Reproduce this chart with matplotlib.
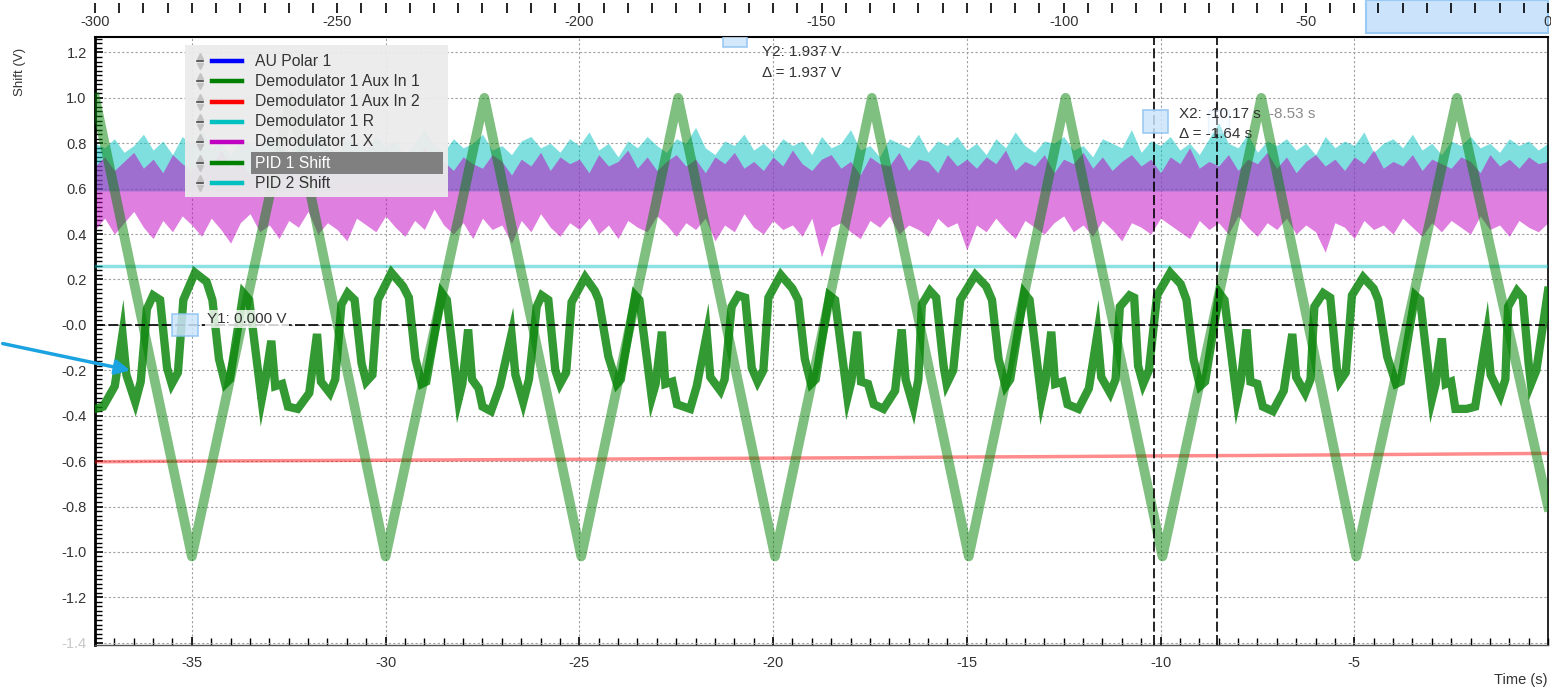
import numpy as np
import matplotlib
matplotlib.use("Agg")
import matplotlib.pyplot as plt
from matplotlib.patches import Rectangle, FancyArrowPatch
from matplotlib.lines import Line2D
from matplotlib.ticker import MultipleLocator
import matplotlib.transforms as mtransforms

plt.rcParams['font.family'] = ['Liberation Sans', 'DejaVu Sans']

# ---------------- data ----------------
legend_names = ["AU Polar 1", "Demodulator 1 Aux In 1", "Demodulator 1 Aux In 2",
                "Demodulator 1 R", "Demodulator 1 X", "PID 1 Shift", "PID 2 Shift"]
legend_colors = ["#0000ff", "#008000", "#ff0000", "#00c0c0", "#c000c0", "#008000", "#00c0c0"]

y_ticks = [-1.4, -1.2, -1.0, -0.8, -0.6, -0.4, -0.2, 0.0, 0.2, 0.4, 0.6, 0.8, 1.0, 1.2]
y_labels = ["-1.4", "-1.2", "-1.0", "-0.8", "-0.6", "-0.4", "-0.2", "-0.0",
            "0.2", "0.4", "0.6", "0.8", "1.0", "1.2"]
x_ticks = [-35, -30, -25, -20, -15, -10, -5]
x_labels = ["-35", "-30", "-25", "-20", "-15", "-10", "-5"]
top_ticks = [-300, -250, -200, -150, -100, -50, 0]
top_labels = ["-300", "-250", "-200", "-150", "-100", "-50", "0"]

# Demodulator 1 R / X envelopes (sampled every 0.25 s from -37.5 to 0)
band_t = np.linspace(-37.5, 0.0, 151)
r_max = [0.80,0.78,0.82,0.76,0.79,0.84,0.77,0.81,0.75,0.83,
         0.79,0.86,0.78,0.80,0.74,0.82,0.79,0.77,0.84,0.80,
         0.76,0.81,0.78,0.85,0.79,0.75,0.82,0.80,0.77,0.83,
         0.78,0.81,0.74,0.80,0.86,0.79,0.76,0.82,0.78,0.80,
         0.84,0.77,0.79,0.75,0.81,0.83,0.78,0.80,0.76,0.82,
         0.79,0.85,0.77,0.80,0.74,0.81,0.78,0.83,0.79,0.76,
         0.82,0.80,0.87,0.78,0.75,0.81,0.79,0.84,0.77,0.80,
         0.76,0.82,0.79,0.81,0.75,0.83,0.78,0.80,0.86,0.77,
         0.79,0.74,0.82,0.80,0.78,0.84,0.76,0.81,0.79,0.83,
         0.77,0.80,0.75,0.82,0.78,0.85,0.79,0.76,0.81,0.80,
         0.83,0.77,0.79,0.74,0.82,0.80,0.78,0.86,0.76,0.81,
         0.79,0.83,0.77,0.80,0.75,0.82,0.89,0.80,0.78,0.84,
         0.76,0.81,0.79,0.82,0.77,0.80,0.75,0.83,0.78,0.81,
         0.79,0.85,0.76,0.80,0.82,0.78,0.84,0.77,0.80,0.75,
         0.81,0.79,0.83,0.78,0.80,0.76,0.82,0.79,0.81,0.77,
         0.80]
r_min = 0.59
x_max = [0.70,0.74,0.68,0.72,0.76,0.69,0.73,0.67,0.75,0.71,
         0.68,0.74,0.70,0.77,0.69,0.72,0.66,0.73,0.75,0.70,
         0.72,0.68,0.74,0.71,0.76,0.67,0.73,0.70,0.75,0.69,
         0.74,0.71,0.67,0.73,0.78,0.70,0.72,0.68,0.74,0.71,
         0.69,0.75,0.72,0.66,0.73,0.70,0.76,0.68,0.74,0.71,
         0.73,0.67,0.75,0.70,0.72,0.77,0.69,0.74,0.68,0.72,
         0.75,0.70,0.73,0.67,0.74,0.71,0.76,0.69,0.72,0.68,
         0.74,0.70,0.77,0.71,0.68,0.73,0.75,0.69,0.72,0.66,
         0.74,0.71,0.70,0.76,0.68,0.73,0.72,0.67,0.75,0.70,
         0.73,0.69,0.74,0.71,0.77,0.68,0.72,0.70,0.75,0.67,
         0.73,0.71,0.76,0.69,0.74,0.68,0.72,0.75,0.70,0.73,
         0.67,0.74,0.71,0.78,0.69,0.72,0.70,0.75,0.68,0.73,
         0.71,0.76,0.69,0.74,0.67,0.72,0.75,0.70,0.73,0.68,
         0.74,0.71,0.77,0.69,0.72,0.70,0.75,0.68,0.73,0.71,
         0.69,0.74,0.72,0.67,0.75,0.70,0.73,0.69,0.74,0.71,
         0.72]
x_min = [0.42,0.47,0.40,0.45,0.50,0.43,0.38,0.46,0.41,0.48,
         0.44,0.39,0.47,0.42,0.36,0.45,0.49,0.41,0.44,0.38,
         0.46,0.43,0.50,0.40,0.45,0.42,0.37,0.47,0.44,0.41,
         0.48,0.43,0.39,0.46,0.42,0.51,0.44,0.40,0.45,0.38,
         0.47,0.42,0.44,0.36,0.46,0.41,0.49,0.43,0.39,0.45,
         0.42,0.47,0.40,0.44,0.38,0.46,0.43,0.41,0.48,0.44,
         0.39,0.45,0.42,0.47,0.37,0.44,0.41,0.49,0.43,0.40,
         0.46,0.42,0.44,0.39,0.47,0.30,0.43,0.45,0.41,0.38,
         0.46,0.43,0.48,0.40,0.44,0.42,0.39,0.47,0.43,0.45,
         0.33,0.44,0.41,0.47,0.42,0.38,0.46,0.43,0.40,0.45,
         0.48,0.41,0.44,0.39,0.46,0.42,0.37,0.45,0.43,0.40,
         0.47,0.44,0.41,0.38,0.46,0.42,0.45,0.40,0.48,0.43,
         0.39,0.45,0.42,0.47,0.40,0.44,0.41,0.32,0.45,0.43,
         0.38,0.46,0.42,0.44,0.40,0.47,0.43,0.39,0.45,0.41,
         0.46,0.43,0.40,0.48,0.42,0.44,0.39,0.46,0.43,0.41,
         0.45]

# PID 2 Shift (flat)
pid2_t = [-37.5, 0.0]
pid2_v = [0.26, 0.26]

# Demodulator 1 Aux In 2 (slow drift)
aux2_t = [-37.5, -35.0, -32.5, -30.0, -27.5, -25.0, -22.5, -20.0,
          -17.5, -15.0, -12.5, -10.0, -7.5, -5.0, -2.5, 0.0]
aux2_v = [-0.603, -0.600, -0.598, -0.596, -0.594, -0.592, -0.589, -0.587,
          -0.585, -0.582, -0.580, -0.577, -0.575, -0.572, -0.569, -0.566]

# PID 1 Shift (triangle sweep vertices)
pid1_t = [-37.5, -35.0, -32.45, -30.0, -27.45, -24.95, -22.45, -19.95,
          -17.45, -14.95, -12.45, -9.95, -7.4, -4.95, -2.35, 0.0]
pid1_v = [1.00, -1.02, 1.00, -1.02, 1.00, -1.02, 1.00, -1.02,
          1.00, -1.02, 1.00, -1.02, 1.00, -1.02, 1.00, -0.80]

# Demodulator 1 Aux In 1
aux1_t = [-37.50,-37.29,-36.99,-36.79,-36.69,-36.46,-36.32,-36.16,-36.00,-35.82,-35.64,-35.52,-35.36,-35.22,
          -34.92,-34.62,-34.47,-34.30,-34.14,-34.02,-33.67,-33.52,-33.20,-33.10,-32.95,-32.85,-32.67,-32.52,
          -32.27,-31.97,-31.77,-31.67,-31.44,-31.30,-31.14,-30.98,-30.80,-30.62,-30.50,-30.34,-30.20,
          -29.85,-29.55,-29.40,-29.23,-29.07,-28.95,-28.55,-28.42,-28.12,-28.02,-27.87,-27.77,-27.60,-27.50,
          -27.28,-27.05,-26.75,-26.65,-26.45,-26.30,-26.10,-25.97,-25.80,-25.62,-25.50,-25.34,-25.20,
          -24.85,-24.60,-24.50,-24.25,-24.03,-23.93,-23.56,-23.45,-23.13,-23.03,-22.87,-22.78,-22.60,-22.48,
          -22.14,-21.97,-21.71,-21.62,-21.36,-21.25,-21.07,-20.90,-20.72,-20.55,-20.40,-20.25,-20.12,
          -19.80,-19.50,-19.35,-19.18,-19.02,-18.90,-18.55,-18.40,-18.08,-17.98,-17.83,-17.73,-17.55,-17.40,
          -17.15,-16.85,-16.68,-16.58,-16.38,-16.25,-16.16,-15.95,-15.79,-15.60,-15.52,-15.35,-15.17,
          -14.78,-14.50,-14.35,-14.18,-14.00,-13.88,-13.52,-13.38,-13.07,-12.97,-12.82,-12.72,-12.53,-12.40,
          -12.12,-11.85,-11.63,-11.53,-11.30,-11.16,-11.05,-10.80,-10.68,-10.58,-10.45,-10.30,-10.09,
          -9.75,-9.48,-9.33,-9.15,-8.98,-8.85,-8.48,-8.35,-8.03,-7.93,-7.78,-7.68,-7.50,-7.36,
          -7.10,-6.82,-6.60,-6.50,-6.27,-6.13,-6.03,-5.80,-5.62,-5.45,-5.38,-5.22,-5.06,
          -4.77,-4.50,-4.38,-4.15,-3.92,-3.80,-3.43,-3.30,-3.00,-2.90,-2.74,-2.64,-2.50,-2.39,
          -2.10,-1.88,-1.58,-1.48,-1.23,-1.10,-1.03,-0.80,-0.65,-0.50,-0.44,-0.30,0.00]
aux1_v = [-0.37,-0.36,-0.27,-0.04,-0.22,-0.34,-0.25,0.07,0.13,0.11,-0.19,-0.26,-0.21,0.11,
          0.23,0.19,0.11,-0.15,-0.26,-0.24,0.14,0.11,-0.33,-0.24,-0.07,-0.27,-0.26,-0.36,
          -0.37,-0.30,-0.04,-0.25,-0.30,-0.24,0.09,0.14,0.11,-0.17,-0.25,-0.22,0.11,
          0.23,0.17,0.12,-0.15,-0.26,-0.25,0.14,0.11,-0.33,-0.26,-0.02,-0.24,-0.28,-0.36,
          -0.38,-0.27,-0.04,-0.22,-0.34,-0.24,0.08,0.13,0.11,-0.20,-0.26,-0.21,0.10,
          0.21,0.15,0.11,-0.14,-0.26,-0.24,0.13,0.11,-0.32,-0.26,-0.03,-0.26,-0.25,-0.35,
          -0.37,-0.27,-0.04,-0.23,-0.29,-0.24,0.08,0.13,0.12,-0.19,-0.25,-0.20,0.12,
          0.22,0.16,0.11,-0.15,-0.26,-0.24,0.13,0.11,-0.32,-0.25,-0.03,-0.25,-0.26,-0.35,
          -0.37,-0.29,-0.02,-0.24,-0.36,-0.24,0.09,0.15,0.12,-0.18,-0.26,-0.20,0.11,
          0.22,0.17,0.11,-0.15,-0.27,-0.24,0.14,0.11,-0.33,-0.25,-0.03,-0.26,-0.25,-0.35,
          -0.37,-0.28,-0.04,-0.23,-0.30,-0.24,0.08,0.13,0.12,-0.18,-0.26,-0.20,0.13,
          0.23,0.18,0.11,-0.15,-0.27,-0.25,0.14,0.11,-0.33,-0.25,-0.02,-0.25,-0.26,-0.36,
          -0.38,-0.29,-0.04,-0.23,-0.30,-0.24,0.08,0.14,0.12,-0.19,-0.25,-0.21,0.13,
          0.21,0.16,0.11,-0.14,-0.26,-0.25,0.13,0.11,-0.33,-0.26,-0.06,-0.26,-0.25,-0.37,
          -0.37,-0.36,-0.04,-0.22,-0.31,-0.24,0.08,0.15,0.12,-0.17,-0.26,-0.20,0.15]

# cursors
y1_value = 0.0
y2_value = 1.937
x_cursors = [-10.17, -8.53]

# ---------------- figure ----------------
W, H = 1551, 689
fig = plt.figure(figsize=(W / 100, H / 100), dpi=100)


def fx(x):
    return x / W


def fy(y):
    return 1 - y / H


ax = fig.add_axes([fx(95), fy(645), fx(1548) - fx(95), fy(37) - fy(645)])
ax.set_xlim(-37.5, 0)
ax.set_ylim(-1.41, 1.268)

ax.set_axisbelow(True)
ax.grid(True, which='major', color='#a0a0a0', linestyle=(0, (2, 2)), linewidth=0.8)

ax.set_yticks(y_ticks, y_labels)
ax.set_xticks(x_ticks, x_labels)
ax.yaxis.set_minor_locator(MultipleLocator(0.02))
ax.xaxis.set_minor_locator(MultipleLocator(0.5))
ax.tick_params(axis='both', which='both', direction='in', colors='black',
               labelcolor='#333333', labelsize=10.5, right=False, top=False)
ax.tick_params(axis='both', which='major', length=6, width=1.2)
ax.tick_params(axis='both', which='minor', length=5, width=1.0)
ax.tick_params(axis='y', pad=6)
ax.tick_params(axis='x', pad=8)
ax.get_yticklabels()[0].set_color('#c8c8c8')

ax.spines['left'].set_linewidth(2.0)
ax.spines['top'].set_linewidth(1.5)
ax.spines['right'].set_linewidth(1.2)
ax.spines['bottom'].set_linewidth(1.0)
ax.spines['bottom'].set_color('#555555')

# bands
ax.fill_between(band_t, r_min, r_max, color='#00c0c0', alpha=0.5, lw=0, zorder=2)
ax.fill_between(band_t, x_min, x_max, color='#c000c0', alpha=0.5, lw=0, zorder=2.1)

# lines
ax.plot(pid2_t, pid2_v, color='#00c0c0', alpha=0.45, lw=2.5, zorder=3)
ax.plot(aux2_t, aux2_v, color='#ff0000', alpha=0.45, lw=2.5, zorder=3)
ax.plot(pid1_t, pid1_v, color='#008000', alpha=0.5, lw=7, solid_joinstyle='round', zorder=4)
ax.plot(aux1_t, aux1_v, color='#008000', alpha=0.8, lw=6, solid_joinstyle='miter', zorder=5)

# cursors
ax.axhline(y1_value, color='black', lw=1.2, linestyle=(0, (6, 2)), zorder=6)
for xc in x_cursors:
    ax.axvline(xc, color='black', lw=1.2, linestyle=(0, (6, 2)), zorder=6)

mk = dict(facecolor='#cce4fb', edgecolor='#8ec2f2', lw=1.2, alpha=0.85, zorder=7)
ax.add_patch(Rectangle((-35.5, -0.05), 0.65, 0.10, **mk))
ax.add_patch(Rectangle((-21.3, 1.222), 0.63, 0.08, **mk))
ax.add_patch(Rectangle((-10.45, 0.846), 0.65, 0.10, **mk))
ax.add_patch(Rectangle((-8.78, 0.846), 0.55, 0.10, facecolor='#eef6ff', edgecolor='#cfe5fa',
                       lw=1.0, alpha=0.4, zorder=7))

txt = dict(fontsize=11, color='#333333', zorder=8)
ax.text(-34.6, y1_value + 0.025, f"Y1: {y1_value:.3f} V", ha='left', va='center',
        bbox=dict(facecolor='white', edgecolor='none', alpha=0.8, pad=1.5), **txt)
ax.text(-20.28, 1.2, f"Y2: {y2_value:.3f} V", ha='left', va='center', **txt)
ax.text(-20.28, 1.11, f"\u0394 = {y2_value:.3f} V", ha='left', va='center', **txt)
ax.text(-9.52, 0.93, f"X2: {x_cursors[0]:.2f} s", ha='left', va='center', **txt)
ax.text(-7.2, 0.93, f"{x_cursors[1]:.2f} s", ha='left', va='center', fontsize=11,
        color='#8a8a8a', zorder=8)
ax.text(-9.52, 0.84, f"\u0394 = {x_cursors[0] - x_cursors[1]:.2f} s", ha='left', va='center', **txt)

# ---------------- top time strip ----------------
ax_top = fig.add_axes([fx(95), fy(12), fx(1548) - fx(95), fy(3) - fy(12)])
ax_top.set_xlim(-300, 0)
ax_top.set_ylim(0, 1)
ax_top.patch.set_visible(False)
for s in ax_top.spines.values():
    s.set_visible(False)
ax_top.set_yticks([])
ax_top.set_xticks(top_ticks, top_labels)
ax_top.xaxis.set_minor_locator(MultipleLocator(5))
ax_top.tick_params(axis='x', which='both', top=True, bottom=False, labeltop=False,
                   labelbottom=True, direction='in', length=7, width=1.2,
                   labelsize=10.5, labelcolor='#333333', pad=2)
blend = mtransforms.blended_transform_factory(ax_top.transData, fig.transFigure)
ax_top.add_patch(Rectangle((-37.5, fy(33)), 37.5, 1 - fy(33), transform=blend,
                           facecolor='#cce4fb', edgecolor='#99c9f5', lw=1.5,
                           clip_on=False, zorder=1))

# ---------------- legend ----------------
fig.add_artist(Rectangle((fx(185), fy(197)), fx(448) - fx(185), fy(45) - fy(197),
                         transform=fig.transFigure, facecolor='#ebebeb', edgecolor='none',
                         alpha=0.95, zorder=10))
row_y = [61, 81, 102, 122, 142, 163, 183]
for name, col, ry in zip(legend_names, legend_colors, row_y):
    highlighted = name == "PID 1 Shift"
    if highlighted:
        fig.add_artist(Rectangle((fx(251), fy(ry + 11)), fx(443) - fx(251), fy(ry - 11) - fy(ry + 11),
                                 transform=fig.transFigure, facecolor='#808080',
                                 edgecolor='none', zorder=11))
    fig.add_artist(Line2D([fx(200)], [fy(ry - 5)], marker='^', markersize=4, color='#c4c4c4',
                          transform=fig.transFigure, zorder=12))
    fig.add_artist(Line2D([fx(200)], [fy(ry + 5)], marker='v', markersize=4, color='#c4c4c4',
                          transform=fig.transFigure, zorder=12))
    fig.add_artist(Line2D([fx(197), fx(203)], [fy(ry), fy(ry)], color='#444444', lw=1.2,
                          transform=fig.transFigure, zorder=12))
    fig.add_artist(Line2D([fx(212), fx(242)], [fy(ry), fy(ry)], color=col, lw=3.2,
                          transform=fig.transFigure, zorder=12))
    fig.text(fx(255), fy(ry), name, ha='left', va='center', fontsize=11.3,
             color='white' if highlighted else '#333333', zorder=12)

# ---------------- labels / arrow ----------------
fig.text(fx(20), fy(72), "Shift (V)", rotation=90, ha='center', va='center',
         fontsize=9.5, color='#333333')
fig.text(fx(1521), fy(680), "Time (s)", ha='center', va='center',
         fontsize=10.5, color='#333333')
fig.add_artist(FancyArrowPatch((fx(0), fy(343)), (fx(133), fy(371)), transform=fig.transFigure,
                               arrowstyle='-|>', mutation_scale=22, color='#1aa3e0', lw=2.5,
                               zorder=13))

fig.savefig("out.png", dpi=100)
